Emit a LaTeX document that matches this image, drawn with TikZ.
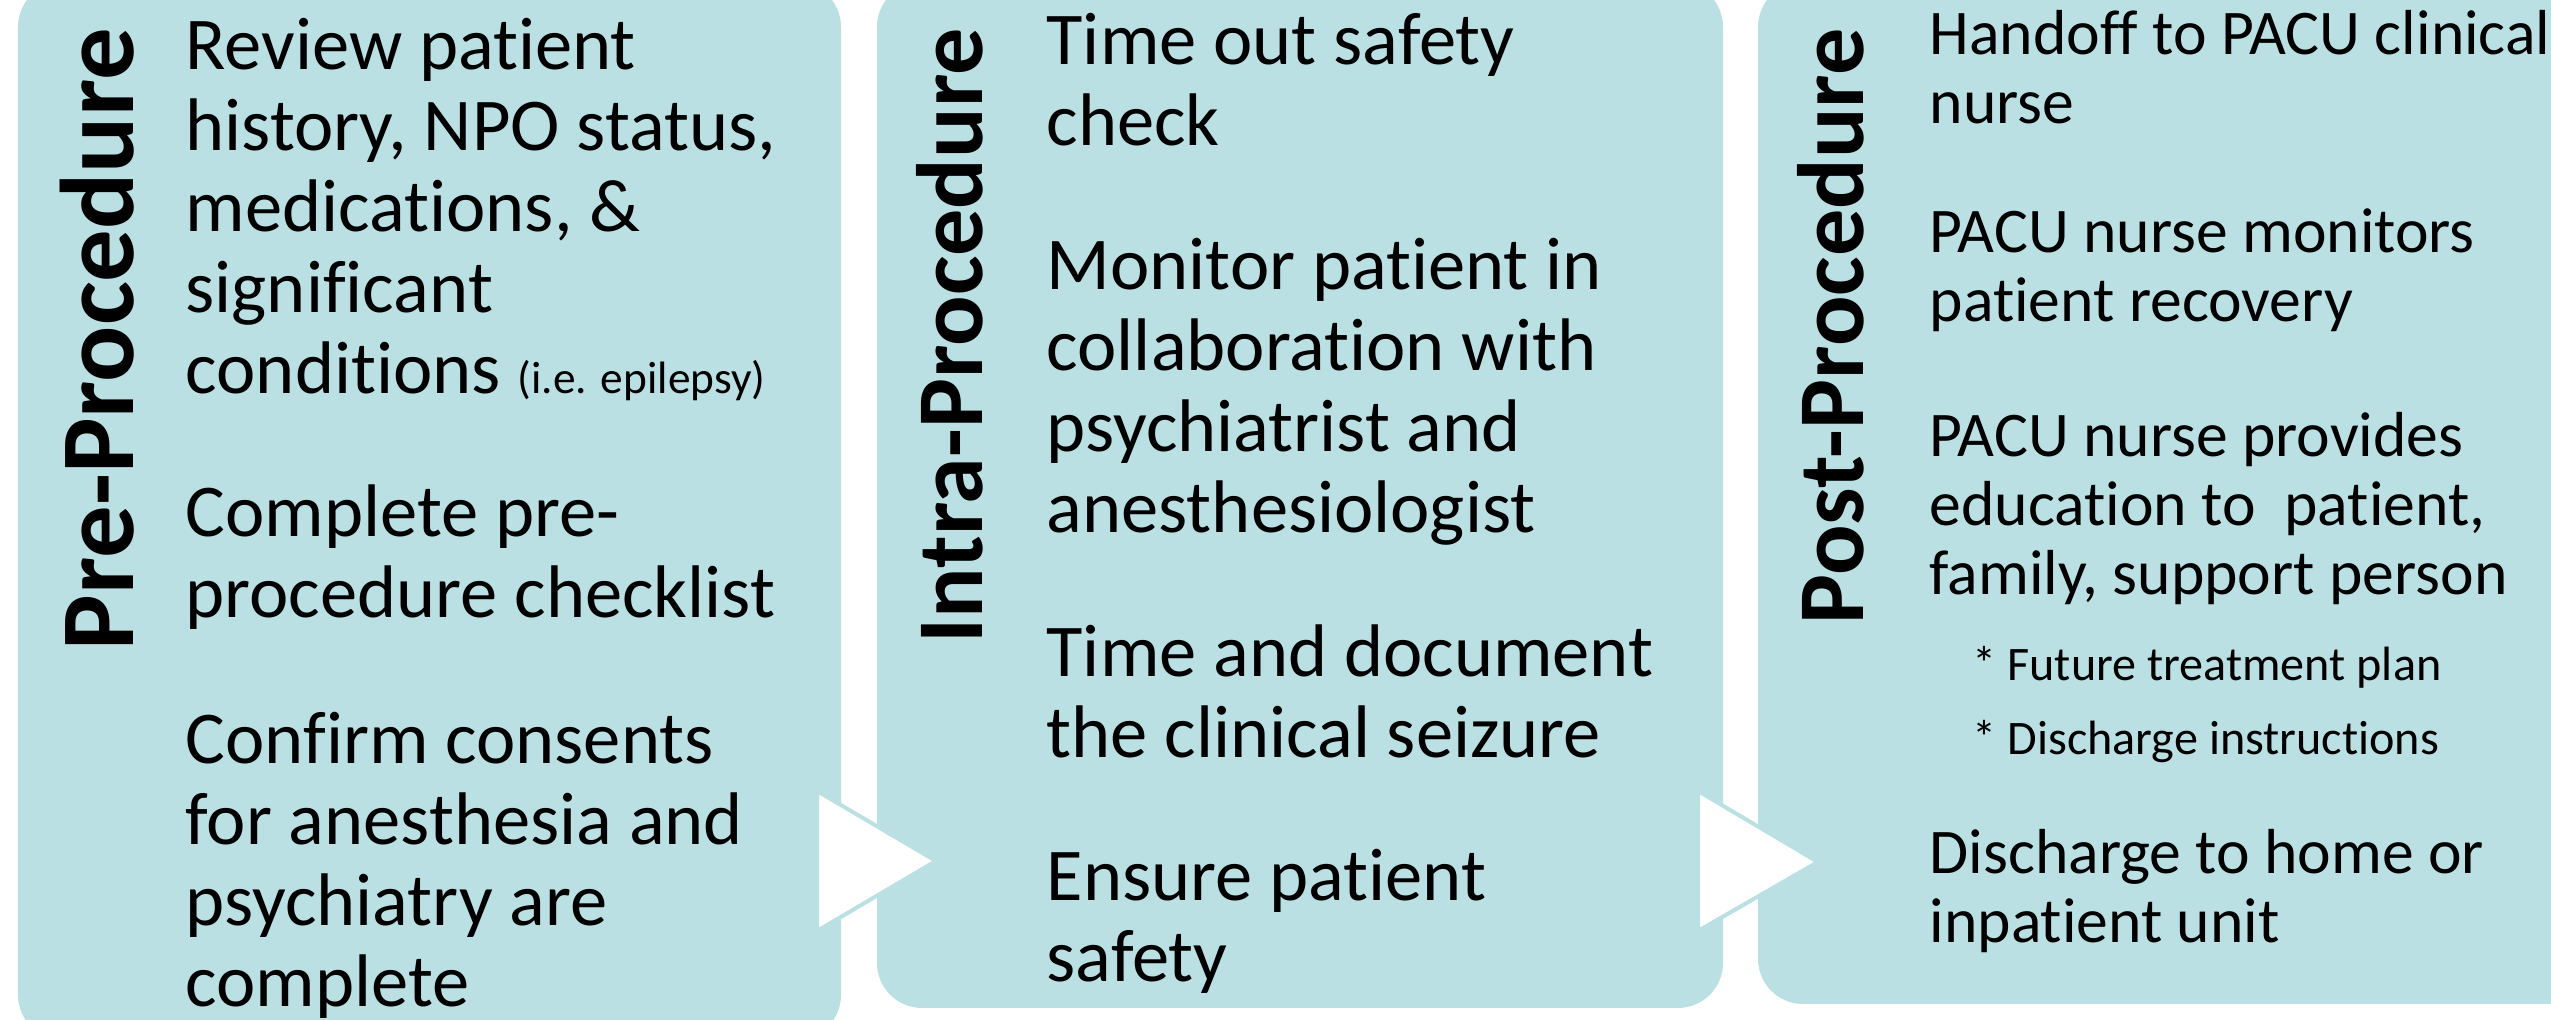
\documentclass[tikz,border=0pt]{standalone}
\usepackage{fontspec}
\setmainfont{Carlito}[Ligatures=NoCommon]
\usetikzlibrary{positioning, calc}
\definecolor{phasefill}{RGB}{187,224,227}

\begin{document}
\begin{tikzpicture}[
  phase/.style={fill=phasefill, rounded corners=0.45cm, inner sep=0pt},
  phasetitle/.style={font=\fontsize{29.8}{36}\selectfont\bfseries, rotate=90,
                     anchor=base west, inner sep=0pt},
  item/.style={font=\fontsize{21.2}{23.05}\selectfont, align=left,
               anchor=base west, inner sep=0pt},
  postitem/.style={font=\fontsize{18.1}{19.63}\selectfont, align=left,
                   anchor=base west, inner sep=0pt},
  subitem/.style={font=\fontsize{13.7}{21.3}\selectfont, align=left,
                  anchor=base west, inner sep=0pt},
  flow/.style={fill=white, draw=phasefill, line width=0.04cm}
]
\useasboundingbox (0,0) rectangle (25.51,10.20);
\clip (0,0) rectangle (25.51,10.20);

% ---- Phase boxes ----
\node[phase, minimum width=8.23cm, minimum height=10.58cm] (pre) at (4.295,5.09) {};
\node[phase, minimum width=8.46cm, minimum height=10.26cm] (intra) at (13.00,5.25) {};
\node[phase, minimum width=8.46cm, minimum height=10.22cm] (post) at (21.81,5.27) {};

% ---- Flow triangles ----
\draw[flow] (8.17,2.29) -- (9.36,1.59) -- (8.17,0.89) -- cycle;
\draw[flow] (16.98,2.29) -- (18.18,1.58) -- (16.98,0.89) -- cycle;

% ---- Titles ----
\node[phasetitle] (pretitle) at (1.33,3.69) {Pre-Procedure};
\node[phasetitle, font=\fontsize{26.8}{32}\selectfont\bfseries] (intratitle) at (9.82,3.76) {Intra-Procedure};
\node[phasetitle, font=\fontsize{26.8}{32}\selectfont\bfseries] (posttitle) at (18.63,3.95) {Post-Procedure};

% ---- Pre-procedure (nodes sit on their last baseline) ----
\node[item] (review) at (1.85,6.26)
  {Review patient\\history, NPO status,\\medications, \&\\significant\\
   conditions {\fontsize{12.9}{14}\selectfont (i.e. epilepsy)}};
\node[item] (checklist) at (1.85,4.02) {Complete pre-\\procedure checklist};
\node[item] (consents) at (1.85,0.13)
  {Confirm consents\\for anesthesia and\\psychiatry are\\complete};

% ---- Intra-procedure ----
\node[item] (timeout) at (10.46,8.74) {Time out safety\\check};
\node[item] (monitor) at (10.46,4.87)
  {Monitor patient in\\collaboration with\\psychiatrist and\\anesthesiologist};
\node[item] (seizure) at (10.46,2.62) {Time and document\\the clinical seizure};
\node[item] (safety) at (10.46,0.38) {Ensure patient\\safety};

% ---- Post-procedure ----
\node[postitem] (handoff) at (19.29,8.96) {Handoff to PACU clinical\\nurse};
\node[postitem] (recovery) at (19.29,6.98) {PACU nurse monitors\\patient recovery};
\node[postitem] (education) at (19.29,4.25)
  {PACU nurse provides\\education to\ \ patient,\\family, support person};
\node[subitem] (plans) at (19.72,2.65) {* Future treatment plan\\* Discharge instructions};
\node[postitem] (discharge) at (19.29,0.77) {Discharge to home or\\inpatient unit};

\end{tikzpicture}
\end{document}
